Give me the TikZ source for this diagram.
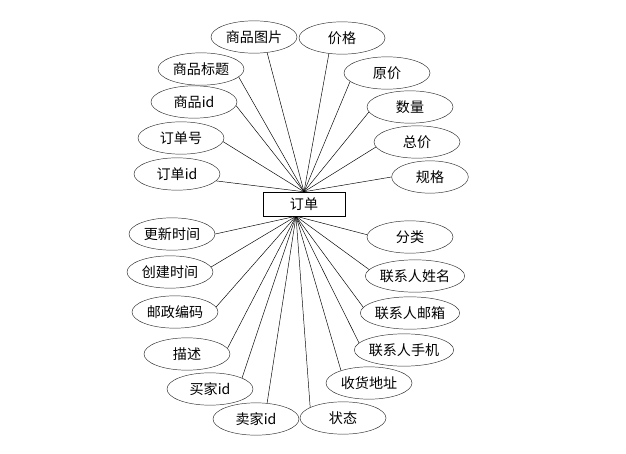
\documentclass[tikz,border=0pt]{standalone}
\usepackage{fontspec}
\newfontfamily\cjk{Noto Sans CJK SC}
\usetikzlibrary{shapes}

\begin{document}
\begin{tikzpicture}[
    x=0.03cm, y=-0.03cm,
    attr/.style={
        ellipse,
        draw=black!80,
        fill=white,
        minimum width=2.58cm,
        minimum height=0.97cm,
        inner sep=0pt,
        font=\cjk\fontsize{12}{14}\selectfont
    },
    entity/.style={
        rectangle,
        draw=black,
        fill=white,
        minimum width=2.46cm,
        minimum height=0.72cm,
        inner sep=0pt,
        font=\cjk\fontsize{12}{14}\selectfont
    },
    link/.style={draw=black, thin}
]

    \useasboundingbox (0,0) rectangle (626,453);

    % --- ENTITY ---
    \node [entity] (order) at (304,204) {订单};
    \coordinate (hubtop) at (order.north);
    \coordinate (hubbot) at ([xshift=-0.24cm]order.south);

    % --- ATTRIBUTES (upper left) ---
    \node [attr] (picture) at (254,37) {商品图片};
    \node [attr] (title) at (201,69) {商品标题};
    \node [attr] (goodsid) at (194,102) {商品id};
    \node [attr] (orderno) at (181,138) {订单号};
    \node [attr] (orderid) at (177,174) {订单id};

    % --- ATTRIBUTES (upper right) ---
    \node [attr] (price) at (342,38) {价格};
    \node [attr] (origprice) at (387,73) {原价};
    \node [attr] (amount) at (410,107) {数量};
    \node [attr] (total) at (417,142) {总价};
    \node [attr, minimum width=2.3cm] (spec) at (430,177) {规格};

    % --- ATTRIBUTES (lower left) ---
    \node [attr] (updated) at (172,234) {更新时间};
    \node [attr] (created) at (170,272) {创建时间};
    \node [attr] (postcode) at (175,312) {邮政编码};
    \node [attr] (descr) at (187,354) {描述};
    \node [attr] (buyerid) at (210,389) {买家id};
    \node [attr] (sellerid) at (256,419) {卖家id};

    % --- ATTRIBUTES (lower right) ---
    \node [attr] (category) at (410,237) {分类};
    \node [attr] (contname) at (415,276) {联系人姓名};
    \node [attr] (contmail) at (410,313) {联系人邮箱};
    \node [attr] (contphone) at (404,350) {联系人手机};
    \node [attr] (address) at (369,383) {收货地址};
    \node [attr] (status) at (343,418) {状态};

    % --- LINKS ---
    \draw [link] (hubtop) -- (picture.-50);
    \draw [link] (hubtop) -- (title.-12);
    \draw [link] (hubtop) -- (goodsid.-5);
    \draw [link] (hubtop) -- (orderno.-5);
    \draw [link] (hubtop) -- (orderid.-10);
    \draw [link] (hubtop) -- (price.-130);
    \draw [link] (hubtop) -- (origprice.193);
    \draw [link] (hubtop) -- (amount.187);
    \draw [link] (hubtop) -- (total.187);
    \draw [link] (hubtop) -- (spec.180);

    \draw [link] (hubbot) -- (updated.0);
    \draw [link] (hubbot) -- (created.7);
    \draw [link] (hubbot) -- (postcode.7);
    \draw [link] (hubbot) -- (descr.8);
    \draw [link] (hubbot) -- (buyerid.19);
    \draw [link] (hubbot) -- (sellerid.55);
    \draw [link] (hubbot) -- (status.162);
    \draw [link] (hubbot) -- (address.156);
    \draw [link] (hubbot) -- (contphone.171);
    \draw [link] (hubbot) -- (contmail.173);
    \draw [link] (hubbot) -- (contname.172);
    \draw [link] (hubbot) -- (category.177);

\end{tikzpicture}
\end{document}
